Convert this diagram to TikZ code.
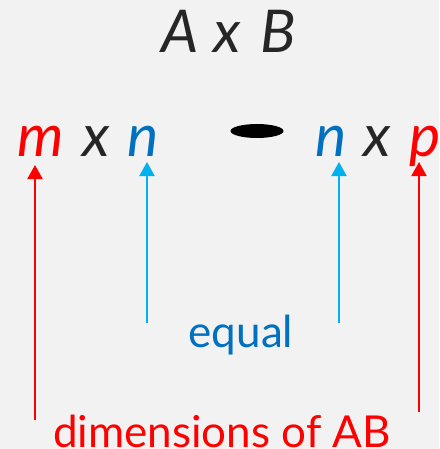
\documentclass[tikz,border=0pt]{standalone}
\usepackage{fontspec}
\setmainfont{Lato}
\usetikzlibrary{arrows.meta}
\definecolor{bgGray}{HTML}{F2F2F2}
\definecolor{txtBlack}{HTML}{262626}
\definecolor{dimRed}{HTML}{FF0000}
\definecolor{eqBlue}{HTML}{0070C0}
\definecolor{arrBlue}{HTML}{00B0F0}
\tikzset{
  letter/.style={anchor=base, inner sep=0pt, font=\fontsize{59}{62}\selectfont\itshape},
  label/.style={anchor=base, inner sep=0pt, font=\fontsize{44}{50}\selectfont},
  dimarrow/.style={-{Triangle[width=15pt,length=14pt]}, line width=2pt},
}
\begin{document}
\begin{tikzpicture}[x=1pt, y=-1pt]
    \fill[bgGray] (0,0) rectangle (439,449);
    \useasboundingbox (0,0) rectangle (439,449);

    % product
    \node[letter, text=txtBlack] (A) at (180,53) {A};
    \node[letter, text=txtBlack] (times) at (227,53) {x};
    \node[letter, text=txtBlack] (B) at (278,53) {B};

    % dimensions of A and B
    \node[letter, text=dimRed] (m) at (41,157) {m};
    \node[letter, text=txtBlack] (xA) at (96,157) {x};
    \node[letter, text=eqBlue] (nA) at (143,157) {n};
    \fill (257,131) ellipse (26.5 and 7);
    \node[letter, text=eqBlue] (nB) at (331,157) {n};
    \node[letter, text=txtBlack] (xB) at (377,157) {x};
    \node[letter, text=dimRed] (p) at (425,157) {p};

    \node[label, text=eqBlue] (equal) at (241,347) {equal};
    \node[label, text=dimRed] (dims) at (222,447) {dimensions of AB};

    \coordinate (mTail) at (35,420);
    \coordinate (mTip) at (35,165);
    \coordinate (pTail) at (419,412);
    \coordinate (pTip) at (419,162);
    \coordinate (nATail) at (147,323);
    \coordinate (nATip) at (147,162);
    \coordinate (nBTail) at (339,323);
    \coordinate (nBTip) at (339,162);

    \draw[dimarrow, dimRed] (mTail) -- (mTip);
    \draw[dimarrow, dimRed] (pTail) -- (pTip);
    \draw[dimarrow, arrBlue] (nATail) -- (nATip);
    \draw[dimarrow, arrBlue] (nBTail) -- (nBTip);
\end{tikzpicture}
\end{document}
